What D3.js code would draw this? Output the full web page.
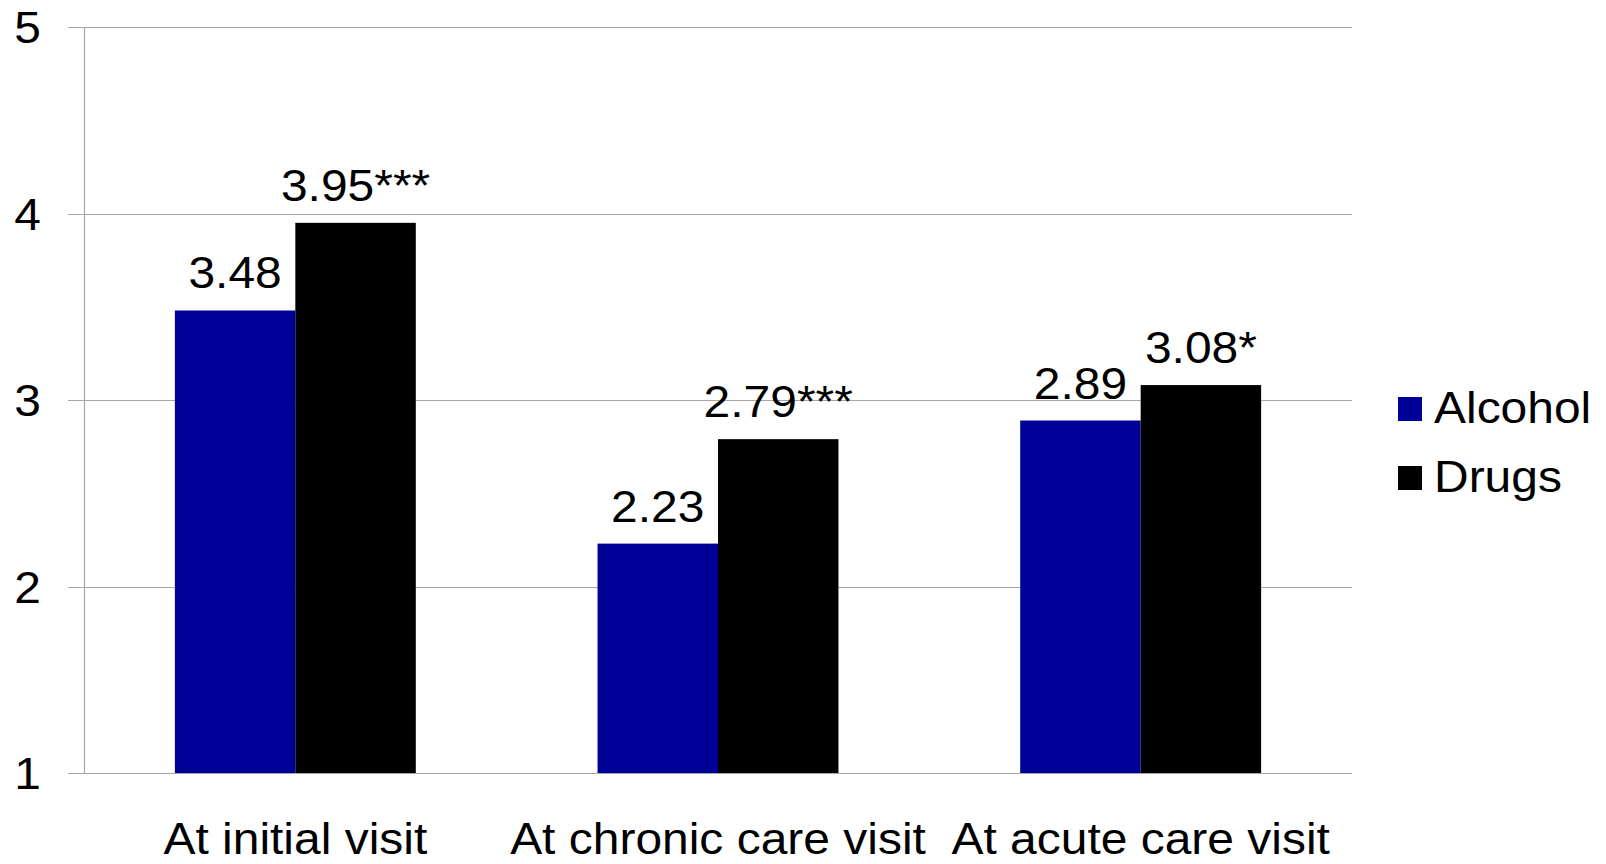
<!DOCTYPE html>
<html>
<head>
<meta charset="utf-8">
<script src="https://cdn.jsdelivr.net/npm/d3@7"></script>
<style>
  html, body { margin: 0; padding: 0; background: #fff; }
  svg { display: block; }
  text { font-family: "Liberation Sans", Arial, sans-serif; fill: #000; }
</style>
</head>
<body>
<script>
const categories = ["At initial visit", "At chronic care visit", "At acute care visit"];
const seriesNames = ["Alcohol", "Drugs"];
const alcoholValues = [3.48, 2.23, 2.89];
const drugsValues = [3.95, 2.79, 3.08];
const drugsLabels = ["3.95***", "2.79***", "3.08*"];
const alcoholLabels = ["3.48", "2.23", "2.89"];
const yTicks = [1, 2, 3, 4, 5];
const seriesColors = ["#000099", "#000000"];

const W = 1606, H = 864;
const FS = 44, SX = 1.09;

const svg = d3.select("body").append("svg").attr("width", W).attr("height", H);

const y = d3.scaleLinear().domain([1, 5]).range([773, 27]);
const x0 = d3.scaleBand().domain(categories).range([84, 1352]).paddingInner(0.43).paddingOuter(0.215);
const x1 = d3.scaleBand().domain(seriesNames).range([0, x0.bandwidth()]);
const color = d3.scaleOrdinal().domain(seriesNames).range(seriesColors);

function stretchedText(parent, xPos, yPos, str, anchor) {
  const g = parent.append("g").attr("transform", `translate(${xPos},${yPos}) scale(${SX},1)`);
  g.append("text").attr("x", 0).attr("y", 0).attr("text-anchor", anchor)
    .attr("font-size", FS).text(str);
  return g;
}

// gridlines + tick marks
svg.append("g").selectAll("line").data(yTicks).join("line")
  .attr("x1", 68).attr("x2", 1352)
  .attr("y1", d => Math.round(y(d)) + 0.5).attr("y2", d => Math.round(y(d)) + 0.5)
  .attr("stroke", "#a6a6a6").attr("stroke-width", 1.2);

// vertical axis line
svg.append("line")
  .attr("x1", 84.5).attr("x2", 84.5).attr("y1", y(5)).attr("y2", y(1))
  .attr("stroke", "#a6a6a6").attr("stroke-width", 1.2);

// y tick labels
const yl = svg.append("g");
yTicks.forEach(t => stretchedText(yl, 41, y(t) + 16, String(t), "end"));

// data rows
const rows = categories.map((c, i) => ({
  cat: c,
  vals: [
    { s: "Alcohol", v: alcoholValues[i], label: alcoholLabels[i] },
    { s: "Drugs", v: drugsValues[i], label: drugsLabels[i] }
  ]
}));

const groups = svg.append("g").selectAll("g").data(rows).join("g")
  .attr("transform", d => `translate(${x0(d.cat)},0)`);

groups.selectAll("rect").data(d => d.vals).join("rect")
  .attr("x", d => x1(d.s))
  .attr("width", x1.bandwidth())
  .attr("y", d => y(d.v))
  .attr("height", d => y(1) - y(d.v))
  .attr("fill", d => color(d.s));

groups.each(function(d) {
  const g = d3.select(this);
  d.vals.forEach(v => {
    stretchedText(g, x1(v.s) + x1.bandwidth() / 2, y(v.v) - 22, v.label, "middle");
  });
});

// category labels
const cl = svg.append("g");
categories.forEach(c => stretchedText(cl, x0(c) + x0.bandwidth() / 2, 854, c, "middle"));

// legend
const legend = svg.append("g");
seriesNames.forEach((s, i) => {
  const yy = 397 + i * 69;
  legend.append("rect").attr("x", 1398).attr("y", yy).attr("width", 24).attr("height", 24)
    .attr("fill", color(s));
  stretchedText(legend, 1434, yy + 26, s, "start");
});
</script>
</body>
</html>
